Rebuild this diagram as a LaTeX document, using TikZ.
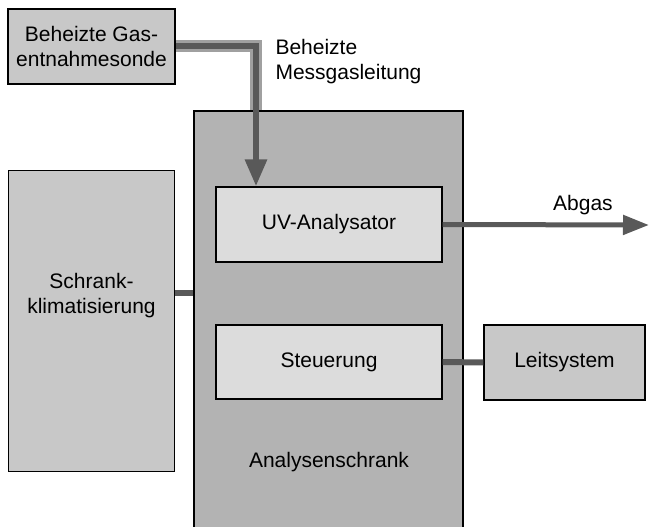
\documentclass[tikz,border=0pt]{standalone}
\usepackage{fontspec}
\setmainfont{Liberation Sans}
\usepackage{tikz}
\usetikzlibrary{arrows.meta}
\definecolor{boxgray}{HTML}{C8C8C8}
\definecolor{cabgray}{HTML}{B3B3B3}
\definecolor{devgray}{HTML}{DCDCDC}
\definecolor{pipegray}{HTML}{595959}
\definecolor{heatgray}{HTML}{A0A0A0}
\tikzstyle{unit}=[draw=black,line width=1.3pt,fill=boxgray,inner sep=0pt,align=center]
\tikzstyle{device}=[unit,fill=devgray]
\tikzstyle{cabinet}=[draw=black,line width=2.2pt,fill=cabgray,inner sep=0pt]
\tikzstyle{pipe} = [draw,line width=6pt,pipegray]
\tikzstyle{heated pipe} = [draw,line width=12pt,heatgray]
\tikzstyle{flow} = [pipe,-{Triangle[length=27pt,width=21pt]}]

\begin{document}
\begin{tikzpicture}[x=1pt,y=-1pt,font=\fontsize{21}{25}\selectfont]
        \useasboundingbox (0,0) rectangle (649,527);
        \node[cabinet,minimum width=269pt,minimum height=420pt] (schrank) at (328.5,321) {};
        \node[unit,minimum width=167pt,minimum height=75pt] (sonde) at (91.5,46.5) {Beheizte Gas-\\entnahmesonde};
        \node[unit,minimum width=166pt,minimum height=301pt] (klima) at (91.5,321.2) {};
        \node[align=center] (klimatext) at (91.5,296) {Schrank-\\klimatisierung};
        \node[device,minimum width=226pt,minimum height=75pt] (uv) at (329,224.5) {UV-Analysator};
        \node[device,minimum width=226pt,minimum height=74pt] (steuer) at (329,362) {Steuerung};
        \node[unit,minimum width=161pt,minimum height=75pt] (leit) at (564.5,362.5) {Leitsystem};
        \node (schranktext) at (329,462) {Analysenschrank};
        \node[align=left,anchor=north west] (leitung) at (272,36) {Beheizte\\Messgasleitung};
        \coordinate (k) at (175,292.5);
        \coordinate (ab) at (649,225);
        \coordinate (knick) at (256,46);
        % beheizte Leitung
        \draw[heated pipe] (sonde.east |- knick) -- (knick) -- (knick |- schrank.north);
        \draw[flow] (sonde.east |- knick) -- (knick) -- (knick |- uv.north);
        \draw[flow,-{Triangle[length=26pt,width=19pt]},line width=5pt] (uv.east) -- (ab)
            node[pos=0.68,above=4pt,black] (abgas) {Abgas};
        \draw[pipe] (klima.east |- k) -- (schrank.west |- k);
        \draw[pipe] (steuer.east) -- (leit.west);
      \end{tikzpicture}
\end{document}
